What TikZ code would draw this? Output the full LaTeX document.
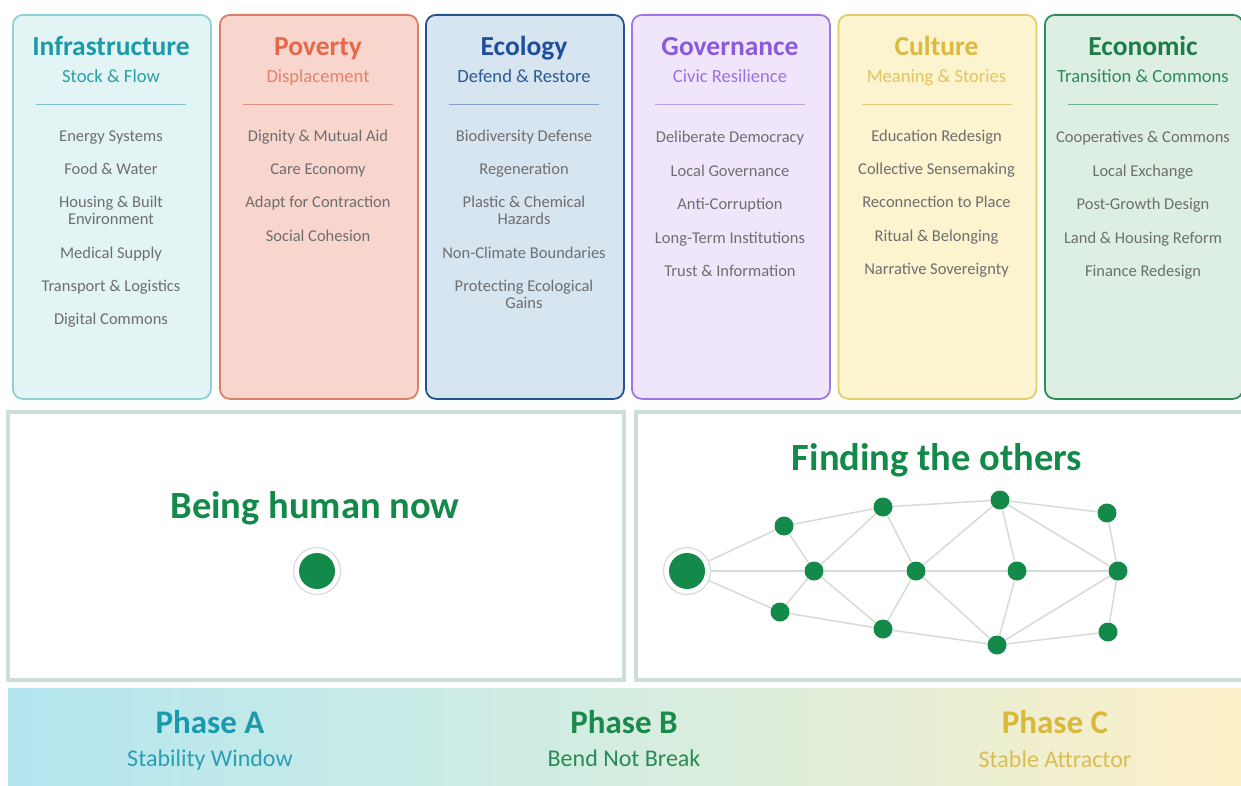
\documentclass[tikz,border=0pt]{standalone}
\usepackage{fontspec}
\setmainfont{Carlito}
\pgfdeclarelayer{bg}
\pgfdeclarelayer{edgelayer}
\pgfsetlayers{bg,edgelayer,main}
\definecolor{infraF}{HTML}{E3F4F5}\definecolor{infraB}{HTML}{8FD0D8}\definecolor{infraT}{HTML}{1A9AA8}\definecolor{infraS}{HTML}{2AA0AA}\definecolor{infraR}{HTML}{7DC5CE}
\definecolor{povF}{HTML}{F9D6CD}\definecolor{povB}{HTML}{DB8068}\definecolor{povT}{HTML}{E3694A}\definecolor{povS}{HTML}{E3846A}\definecolor{povR}{HTML}{E0907A}
\definecolor{ecoF}{HTML}{D7E5F1}\definecolor{ecoB}{HTML}{24548E}\definecolor{ecoT}{HTML}{1F4E9A}\definecolor{ecoS}{HTML}{2D5A94}\definecolor{ecoR}{HTML}{7FA3CC}
\definecolor{govF}{HTML}{F0E6FC}\definecolor{govB}{HTML}{9E78E2}\definecolor{govT}{HTML}{8A5ADB}\definecolor{govS}{HTML}{9A72DD}\definecolor{govR}{HTML}{B9A0E6}
\definecolor{culF}{HTML}{FCF3CF}\definecolor{culB}{HTML}{E2CD6E}\definecolor{culT}{HTML}{DBBB3F}\definecolor{culS}{HTML}{E2C55E}\definecolor{culR}{HTML}{E0CD80}
\definecolor{econF}{HTML}{DDEFE2}\definecolor{econB}{HTML}{2F8C5B}\definecolor{econT}{HTML}{1D7D48}\definecolor{econS}{HTML}{2E8B5A}\definecolor{econR}{HTML}{6DB08A}
\definecolor{itemgray}{HTML}{6E6E6E}
\definecolor{panelB}{HTML}{CCE0D7}
\definecolor{dotgreen}{HTML}{138A4A}
\definecolor{ringgray}{HTML}{D6DCD9}
\definecolor{edgegray}{HTML}{D5DCD8}
\definecolor{bandL}{HTML}{B4E6F0}\definecolor{bandM}{HTML}{D4EDE0}\definecolor{bandR}{HTML}{FDF0C8}
\definecolor{phA}{HTML}{1B9AAF}\definecolor{phAs}{HTML}{2A9EB5}
\definecolor{phB}{HTML}{1A8A4A}\definecolor{phBs}{HTML}{2A8A55}
\definecolor{phC}{HTML}{D9B93A}\definecolor{phCs}{HTML}{D9BE55}
\newcommand\pillar[5]{%
  \node[pillarbox, draw=#1B, fill=#1F] (#1box) at (#2,14) {};
  \node[ptitle, text=#1T] (#1title) at (#2+99,56) {#3};
  \node[psub, text=#1S] (#1sub) at (#2+99,82.5) {#4};
  \draw[#1R, line width=1pt] (#2+24,105) coordinate (#1ra) -- (#2+174,105) coordinate (#1rb);
  \foreach \yy/\tt [count=\i] in {#5} {\node[item] (#1i\i) at (#2+99,\yy+5.5) {\tt};}%
}
\begin{document}
\begin{tikzpicture}[x=1pt,y=-1pt,
  pillarbox/.style={rounded corners=10pt, line width=1.8pt, minimum width=198pt, minimum height=384pt, anchor=north west, inner sep=0pt},
  ptitle/.style={font=\fontsize{27.5}{30}\selectfont\bfseries, inner sep=0pt, anchor=base},
  psub/.style={font=\fontsize{18.6}{20}\selectfont, inner sep=0pt, anchor=base},
  item/.style={font=\fontsize{16.5}{17}\selectfont, text=itemgray, align=center, inner sep=0pt, anchor=base},
  panel/.style={draw=panelB, line width=3.5pt, anchor=north west, inner sep=0pt},
  bigtitle/.style={font=\fontsize{38.5}{40}\selectfont\bfseries, text=dotgreen, inner sep=0pt, anchor=base},
  dot/.style={circle, fill=dotgreen, minimum size=19pt, inner sep=0pt},
  bigdot/.style={circle, fill=dotgreen, minimum size=36pt, inner sep=0pt},
  ring/.style={circle, draw=ringgray, fill=white, line width=1.2pt, minimum size=47pt, inner sep=0pt},
  edge/.style={draw=edgegray, line width=1.5pt},
  phase/.style={font=\fontsize{33}{35}\selectfont\bfseries, inner sep=0pt, anchor=base},
  phasesub/.style={font=\fontsize{24}{26}\selectfont, inner sep=0pt, anchor=base}
]
\useasboundingbox (0,0) rectangle (1241,786);
\begin{pgfonlayer}{bg}
\fill[white] (0,0) rectangle (1241,786);
\end{pgfonlayer}

% pillars (two-line items: y of the last line)
\pillar{infra}{12}{Infrastructure}{Stock \& Flow}{136/Energy Systems, 169/Food \& Water, 219/{Housing \& Built\\Environment}, 253/Medical Supply, 286/Transport \& Logistics, 319/Digital Commons}
\pillar{pov}{219}{Poverty}{Displacement}{136/Dignity \& Mutual Aid, 169/Care Economy, 202/Adapt for Contraction, 236/Social Cohesion}
\pillar{eco}{425}{Ecology}{Defend \& Restore}{136/Biodiversity Defense, 169/Regeneration, 219/{Plastic \& Chemical\\Hazards}, 253/Non-Climate Boundaries, 303/{Protecting Ecological\\Gains}}
\pillar{gov}{631}{Governance}{Civic Resilience}{137/Deliberate Democracy, 171/Local Governance, 204/Anti-Corruption, 238/Long-Term Institutions, 271/Trust \& Information}
\pillar{cul}{837.5}{Culture}{Meaning \& Stories}{136/Education Redesign, 169/Collective Sensemaking, 202/Reconnection to Place, 236/Ritual \& Belonging, 269/Narrative Sovereignty}
\pillar{econ}{1044}{Economic}{Transition \& Commons}{137/Cooperatives \& Commons, 171/Local Exchange, 204/Post-Growth Design, 238/Land \& Housing Reform, 271/Finance Redesign}

% middle panels
\node[panel, minimum width=616pt, minimum height=268pt] (leftpanel) at (6,410) {};
\node[panel, minimum width=611pt, minimum height=268pt] (rightpanel) at (634,410) {};

\node[bigtitle] (being) at (315,518) {Being human now};
\node[ring] (selfring) at (317,571) {};
\node[bigdot] (self) at (317,571) {};

\node[bigtitle] (finding) at (937,470) {Finding the others};
\node[ring] (hubring) at (687,571) {};
\node[bigdot] (hub) at (687,571) {};
\node[dot] (n1) at (784,526) {};
\node[dot] (n2) at (780,612) {};
\node[dot] (n3) at (814,571) {};
\node[dot] (n4) at (883,507) {};
\node[dot] (n5) at (883,629) {};
\node[dot] (n6) at (916,571) {};
\node[dot] (n7) at (1000,500) {};
\node[dot] (n8) at (997,645) {};
\node[dot] (n9) at (1017,571) {};
\node[dot] (n10) at (1107,513) {};
\node[dot] (n11) at (1118,571) {};
\node[dot] (n12) at (1108,632) {};
\begin{pgfonlayer}{edgelayer}
\foreach \a/\b in {hubring/n1, hubring/n3, hubring/n2, n1/n4, n1/n3, n2/n3, n2/n5, n3/n4, n3/n6, n3/n5, n4/n6, n4/n7, n6/n7, n6/n9, n6/n5, n6/n8, n5/n8, n7/n9, n7/n10, n7/n11, n9/n11, n9/n8, n8/n11, n8/n12, n10/n11, n11/n12}
  \draw[edge] (\a) -- (\b);
\end{pgfonlayer}

% bottom band
\shade[left color=bandL, right color=bandR, middle color=bandM] (8,688) rectangle (1241,786);
\node[phase, text=phA] (phaseA) at (210,733.5) {Phase A};
\node[phasesub, text=phAs] (phaseAs) at (210,766) {Stability Window};
\node[phase, text=phB] (phaseB) at (624,733.5) {Phase B};
\node[phasesub, text=phBs] (phaseBs) at (624,766) {Bend Not Break};
\node[phase, text=phC] (phaseC) at (1055,733.5) {Phase C};
\node[phasesub, text=phCs] (phaseCs) at (1055,767) {Stable Attractor};
\end{tikzpicture}
\end{document}
